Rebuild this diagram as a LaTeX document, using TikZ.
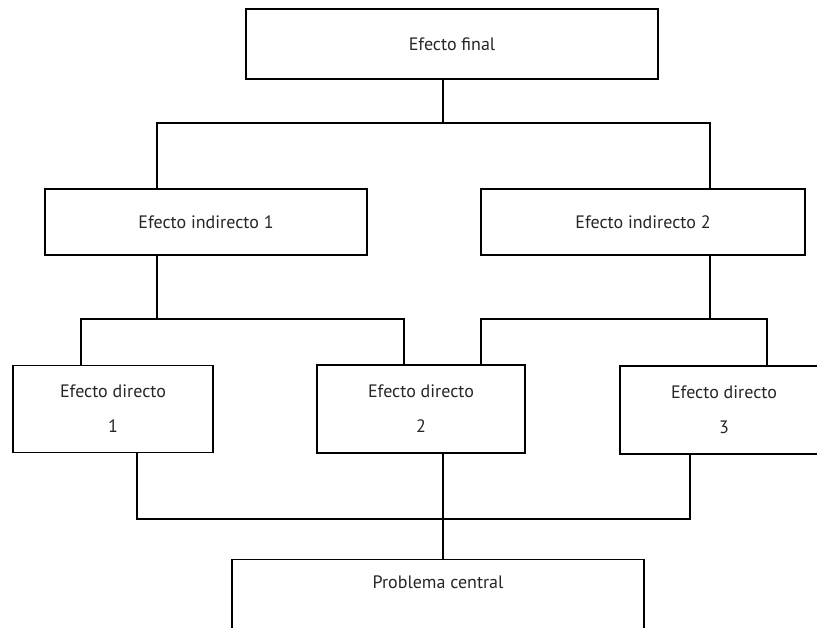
\documentclass[tikz,border=0pt]{standalone}
\usepackage{fontspec}
\setmainfont{PT Sans}
\usepackage{xcolor}
\usepackage{tikz}

\begin{document}
\begin{tikzpicture}[x=1pt,y=-1pt,
  box/.style={draw, line width=1.2pt, rectangle, inner sep=0pt, text=black!85,
    font=\fontsize{18}{35}\selectfont, align=center},
  link/.style={line width=1.2pt, line cap=rect}]
  \clip (0,0) rectangle (817,627);
  \fill[white] (0,0) rectangle (817,627);

  % Top
  \node[box, minimum width=412pt, minimum height=70pt] (final) at (452,44) {Efecto final};

  % Indirect effects
  \node[box, minimum width=322pt, minimum height=66pt] (ind1) at (206,222) {Efecto indirecto 1};
  \node[box, minimum width=324pt, minimum height=66pt] (ind2) at (643,222) {Efecto indirecto 2};

  % Direct effects
  \node[box, minimum width=200pt, minimum height=87pt] (dir1) at (113,409) {Efecto directo\\1};
  \node[box, minimum width=208pt, minimum height=88pt] (dir2) at (421,409) {Efecto directo\\2};
  \node[box, minimum width=208pt, minimum height=88pt] (dir3) at (724,410) {Efecto directo\\3};

  % Central problem
  \node[box, anchor=north, minimum width=412pt, text height=29pt, text depth=70pt] (prob) at (438,559) {Problema central};

  % Junctions
  \coordinate (top) at (443,123);
  \coordinate (a1) at (157,123);
  \coordinate (a2) at (710,123);
  \coordinate (b1) at (81,319);
  \coordinate (b2) at (404,319);
  \coordinate (c1) at (481,319);
  \coordinate (c2) at (767,319);
  \coordinate (d1) at (137,519);
  \coordinate (d2) at (690,519);
  \coordinate (dm) at (443,519);

  % Final -> indirect
  \draw[link] (final.south -| top) -- (top);
  \draw[link] (ind1.north -| a1) -- (a1) -- (a2) -- (ind2.north -| a2);

  % Indirect -> direct
  \draw[link] (ind1.south -| a1) -- (a1 |- b1);
  \draw[link] (dir1.north -| b1) -- (b1) -- (b2) -- (dir2.north -| b2);
  \draw[link] (ind2.south -| a2) -- (a2 |- c1);
  \draw[link] (dir2.north -| c1) -- (c1) -- (c2) -- (dir3.north -| c2);

  % Direct -> problem
  \draw[link] (dir1.south -| d1) -- (d1) -- (d2) -- (dir3.south -| d2);
  \draw[link] (dir2.south -| dm) -- (prob.north -| dm);
\end{tikzpicture}
\end{document}
